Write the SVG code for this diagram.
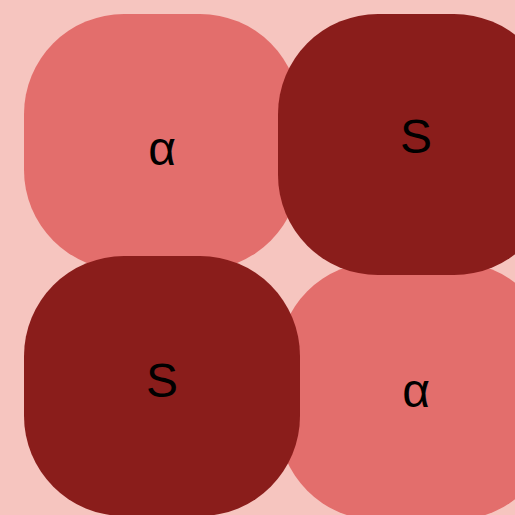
<svg xmlns="http://www.w3.org/2000/svg" width="515" height="515" viewBox="0 0 515 515">
<style>
.light{fill:#E36E6C}
.dark{fill:#8A1D1B}
.lbl{font-family:"Liberation Sans",Arial,sans-serif;font-size:48px;fill:#000;text-anchor:middle}
</style>
<rect x="0" y="0" width="515" height="515" fill="#F6C5BF"/>
<g id="node-tl">
<rect class="light" x="24" y="14" width="276" height="256" rx="100" ry="100"/>
<text class="lbl" x="162" y="165">α</text>
</g>
<g id="node-br">
<rect class="light" x="278" y="262" width="276" height="258" rx="100" ry="100"/>
<text class="lbl" x="416" y="407">α</text>
</g>
<g id="node-tr">
<rect class="dark" x="278" y="14" width="276" height="261" rx="100" ry="100"/>
<text class="lbl" x="416" y="153">S</text>
</g>
<g id="node-bl">
<rect class="dark" x="24" y="256" width="276" height="260" rx="100" ry="100"/>
<text class="lbl" x="162" y="397">S</text>
</g>
<g id="connectors"></g>
</svg>
